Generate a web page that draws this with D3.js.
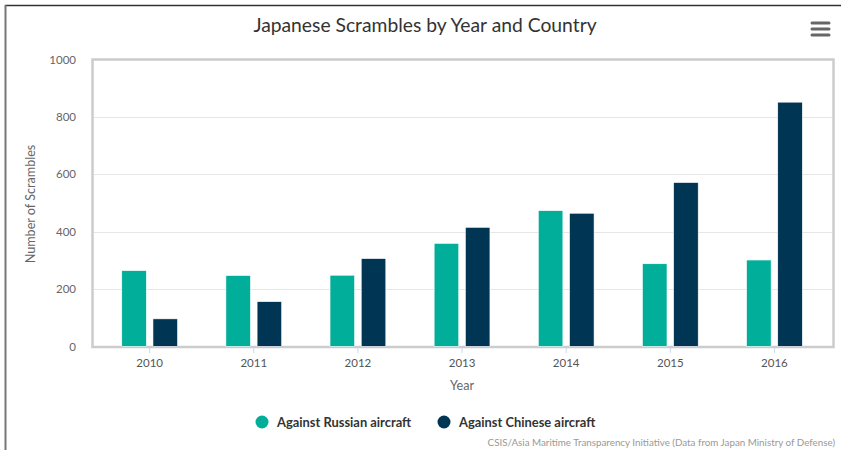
<!DOCTYPE html>
<html><head><meta charset="utf-8">
<script src="https://cdn.jsdelivr.net/npm/d3@7"></script>
<style>body{margin:0;background:#fff}svg{display:block}</style>
</head><body>
<script>
const years = ["2010","2011","2012","2013","2014","2015","2016"];
const seriesNames = ["Against Russian aircraft","Against Chinese aircraft"];
const russian = [264,247,248,359,473,288,301];
const chinese = [96,156,306,415,464,571,851];
const yTicks = [0,200,400,600,800,1000];
const colors = ["#00ae9a","#003654"];
const titleText = "Japanese Scrambles by Year and Country";
const creditText = "CSIS/Asia Maritime Transparency Initiative (Data from Japan Ministry of Defense)";

const W=841,H=450;
const svg=d3.select("body").append("svg").attr("width",W).attr("height",H);
const font="Lato, 'Open Sans', sans-serif";

// outer frame
svg.append("line").attr("x1",5).attr("x2",W).attr("y1",5.5).attr("y2",5.5).attr("stroke","#333").attr("stroke-width",1.5);
svg.append("line").attr("x1",5.5).attr("x2",5.5).attr("y1",5).attr("y2",H).attr("stroke","#777").attr("stroke-width",2);

const x0=d3.scaleBand().domain(years).range([97.6,826.5]).paddingInner(0).paddingOuter(0);
const y=d3.scaleLinear().domain([0,1000]).range([346.4,59.4]);

// plot border
svg.append("rect").attr("x",92.5).attr("y",59.5).attr("width",741).attr("height",287.5)
  .attr("fill","none").attr("stroke","#cccccc").attr("stroke-width",2.5);

// gridlines
svg.append("g").selectAll("line").data(yTicks.filter(d=>d>0&&d<1000)).join("line")
  .attr("x1",94).attr("x2",832).attr("y1",d=>Math.round(y(d))+0.5).attr("y2",d=>Math.round(y(d))+0.5)
  .attr("stroke","#e6e6e6").attr("stroke-width",1);

// y axis labels
const yAxis=d3.axisLeft(y).tickValues(yTicks).tickFormat(d3.format("d")).tickSize(0).tickPadding(0);
const gy=svg.append("g").attr("transform","translate(76,0)").call(yAxis);
gy.select(".domain").remove();
gy.selectAll("text").attr("font-family",font).attr("font-size",11.5).attr("fill","#666").attr("dy","0.32em");

// x axis
const xAxis=d3.axisBottom(x0).tickSize(5).tickPadding(6);
const gx=svg.append("g").attr("transform","translate(0,348)").call(xAxis);
gx.select(".domain").remove();
gx.selectAll(".tick line").attr("stroke","#ccd6eb");
gx.selectAll("text").attr("font-family",font).attr("font-size",11.5).attr("fill","#555");

// bars
const bw=24.6, gap=6.6;
const series=[russian,chinese];
series.forEach((vals,si)=>{
  svg.append("g").selectAll("rect").data(years).join("rect")
    .attr("x",(d,i)=>x0(d)+x0.bandwidth()/2+(si===0?-(gap/2+bw):gap/2))
    .attr("y",(d,i)=>y(vals[i]))
    .attr("width",bw)
    .attr("height",(d,i)=>y(0)-y(vals[i]))
    .attr("fill",colors[si]).attr("stroke","#fff").attr("stroke-width",0.6);
});

// title
svg.append("text").attr("x",425).attr("y",32).attr("text-anchor","middle")
  .attr("font-family",font).attr("font-size",19.3).attr("fill","#333").text(titleText);

// menu icon
[23,29,35].forEach(yy=>svg.append("line").attr("x1",812).attr("x2",829).attr("y1",yy).attr("y2",yy)
  .attr("stroke","#666").attr("stroke-width",3).attr("stroke-linecap","round"));

// axis titles
svg.append("text").attr("transform","translate(35,204) rotate(-90)").attr("text-anchor","middle")
  .attr("font-family",font).attr("font-size",12.6).attr("fill","#666").text("Number of Scrambles");
svg.append("text").attr("x",462).attr("y",390).attr("text-anchor","middle")
  .attr("font-family",font).attr("font-size",12.6).attr("fill","#666").text("Year");

// legend
const legX=[262,444];
seriesNames.forEach((n,i)=>{
  svg.append("circle").attr("cx",legX[i]).attr("cy",422).attr("r",6.5).attr("fill",colors[i]);
  svg.append("text").attr("x",legX[i]+15).attr("y",426.5).attr("font-family",font).attr("font-weight","bold")
    .attr("font-size",12.9).attr("fill","#333").text(n);
});

// credit
svg.append("text").attr("x",835).attr("y",446).attr("text-anchor","end")
  .attr("font-family",font).attr("font-size",9.8).attr("fill","#999").text(creditText);
</script>
</body></html>
